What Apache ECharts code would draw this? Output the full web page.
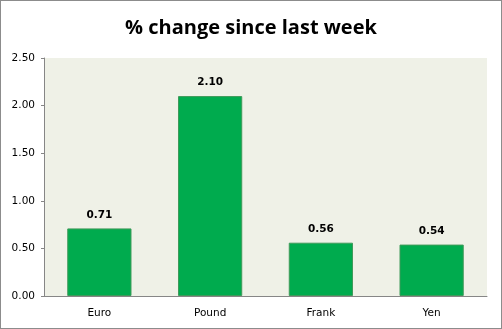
<!DOCTYPE html>
<html>
<head>
<meta charset="utf-8">
<script src="https://cdn.jsdelivr.net/npm/echarts@6/dist/echarts.min.js"></script>
<style>
html,body{margin:0;padding:0;background:#fff;}
#chart{width:502px;height:329px;box-sizing:border-box;border:1px solid #8c8c8c;}
</style>
</head>
<body>
<div id="chart"></div>
<script>
// Weekly currency movement, in percent
const currencies = ['Euro', 'Pound', 'Frank', 'Yen'];
const pctChange = [0.71, 2.10, 0.56, 0.54];
const yTicks = [0, 0.5, 1.0, 1.5, 2.0, 2.5];

const chart = echarts.init(document.getElementById('chart'), null, {renderer: 'canvas'});
chart.setOption({
  animation: false,
  backgroundColor: '#ffffff',
  title: {
    text: '% change since last week',
    left: 'center',
    top: 12,
    textStyle: {fontFamily: 'Open Sans', fontWeight: 'bold', fontSize: 20, color: '#000'}
  },
  grid: {left: 43, right: 14, top: 57, bottom: 32, show: true, backgroundColor: '#eff1e7', borderWidth: 0},
  xAxis: {
    type: 'category',
    data: currencies,
    axisLine: {lineStyle: {color: '#868686'}},
    axisTick: {show: false},
    axisLabel: {fontFamily: 'DejaVu Sans', fontSize: 10.5, color: '#000', margin: 12}
  },
  yAxis: {
    type: 'value',
    min: yTicks[0],
    max: yTicks[yTicks.length - 1],
    interval: 0.5,
    axisLine: {show: true, lineStyle: {color: '#868686'}},
    axisTick: {show: true, length: 3, lineStyle: {color: '#868686'}},
    splitLine: {show: false},
    axisLabel: {fontFamily: 'DejaVu Sans', fontSize: 10.5, color: '#000', margin: 9,
      formatter: v => v.toFixed(2)}
  },
  series: [{
    type: 'bar',
    data: pctChange,
    barWidth: '58%',
    itemStyle: {color: '#00ab4e', borderColor: '#3f9a5a', borderWidth: 1},
    label: {
      show: true,
      position: 'top',
      distance: 8,
      fontFamily: 'DejaVu Sans',
      fontWeight: 'bold',
      fontSize: 10.5,
      color: '#000',
      formatter: p => p.value.toFixed(2)
    }
  }]
});
</script>
</body>
</html>
